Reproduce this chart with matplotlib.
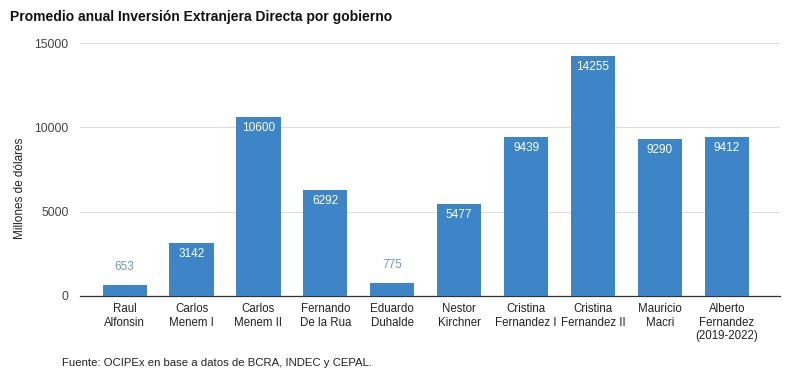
import matplotlib.pyplot as plt

plt.rcParams['font.family'] = ['Liberation Sans', 'DejaVu Sans']

gobiernos = ["Raul\nAlfonsin", "Carlos\nMenem I", "Carlos\nMenem II", "Fernando\nDe la Rua",
             "Eduardo\nDuhalde", "Nestor\nKirchner", "Cristina\nFernandez I",
             "Cristina\nFernandez II", "Mauricio\nMacri", "Alberto\nFernandez\n(2019-2022)"]
promedio_ied = [653, 3142, 10600, 6292, 775, 5477, 9439, 14255, 9290, 9412]

bar_color = '#3d85c6'

fig = plt.figure(figsize=(7.9, 3.75), dpi=100)
ax = fig.add_axes([0.101, 0.211, 0.886, 0.674])

x = range(len(gobiernos))
bars = ax.bar(x, promedio_ied, width=0.66, color=bar_color, zorder=3)

# labels: inside for tall bars, above for short ones
for xi, v in zip(x, promedio_ied):
    if v > 2000:
        ax.text(xi, v - 650, str(v), ha='center', va='center', color='white', fontsize=8.5, zorder=4)
    else:
        ax.text(xi, v + 1050, str(v), ha='center', va='center', color='#6f98b8', fontsize=8.5, zorder=4)

ax.set_ylim(0, 15000)
ax.set_xlim(-0.67, 9.79)
ax.set_yticks([0, 5000, 10000, 15000])
ax.set_yticklabels(['0', '5000', '10000', '15000'], fontsize=8.7, color='#444444')
ax.set_xticks(list(x))
ax.set_xticklabels(gobiernos, fontsize=8.3, color='#222222', linespacing=1.2)
ax.tick_params(axis='both', length=0)
ax.tick_params(axis='y', pad=8)
ax.tick_params(axis='x', pad=5)
ax.grid(axis='y', color='#dddddd', linewidth=0.8, zorder=0)
for s in ['top', 'right', 'left']:
    ax.spines[s].set_visible(False)
ax.spines['bottom'].set_color('#333333')
ax.spines['bottom'].set_linewidth(0.9)

ax.set_ylabel('Millones de dólares', fontsize=8.5, color='#222222')
ax.yaxis.set_label_coords(-0.077, 0.427)

fig.text(0.013, 0.955, 'Promedio anual Inversión Extranjera Directa por gobierno',
         fontsize=10, fontweight='bold', ha='left', va='center', color='#111111')
fig.text(0.079, 0.032, 'Fuente: OCIPEx en base a datos de BCRA, INDEC y CEPAL.',
         fontsize=8.2, ha='left', va='center', color='#222222')

fig.savefig('out.png', dpi=100, facecolor='white')
